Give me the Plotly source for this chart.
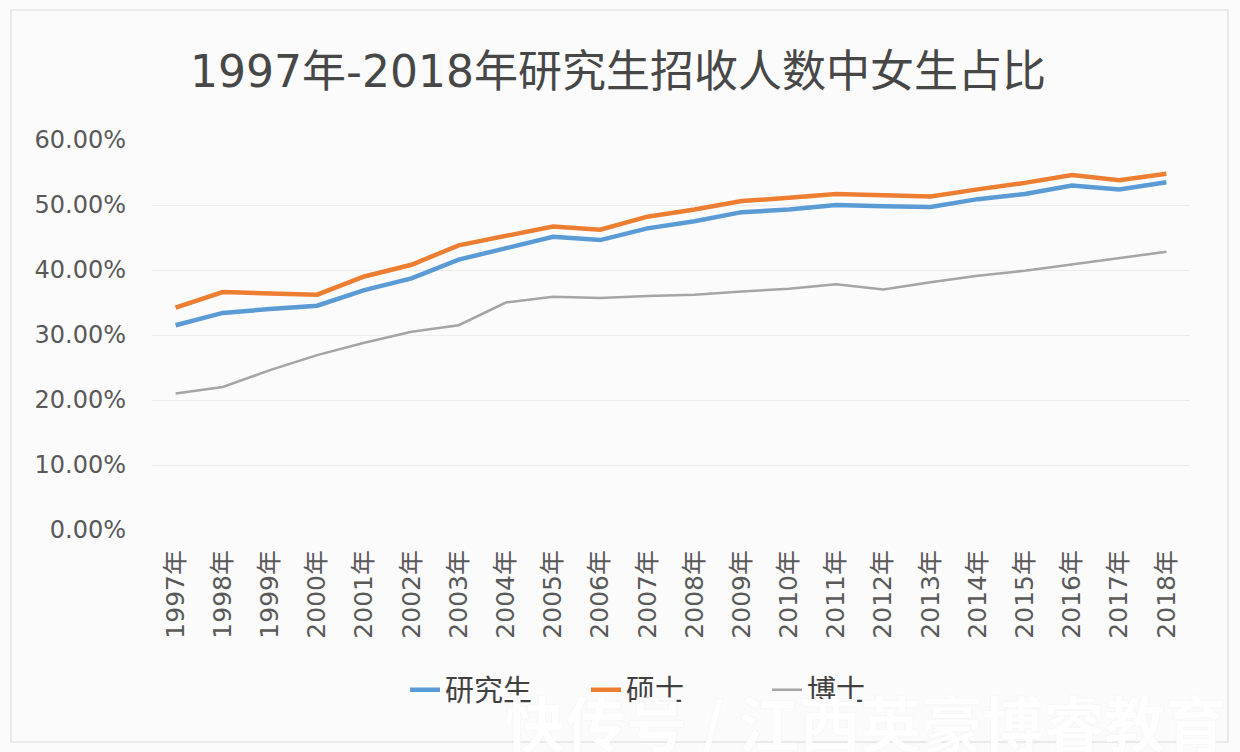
import plotly.graph_objects as go

years = [f"{y}年" for y in range(1997, 2019)]
grad = [31.5, 33.4, 34.0, 34.5, 36.9, 38.7, 41.6, 43.3, 45.1, 44.6, 46.4,
        47.5, 48.9, 49.3, 50.0, 49.8, 49.7, 50.9, 51.7, 53.0, 52.4, 53.5]
master = [34.2, 36.6, 36.4, 36.2, 39.0, 40.8, 43.8, 45.2, 46.7, 46.2, 48.2,
          49.3, 50.6, 51.1, 51.7, 51.5, 51.3, 52.4, 53.4, 54.6, 53.8, 54.8]
phd = [21.0, 22.0, 24.6, 26.9, 28.8, 30.5, 31.5, 35.0, 35.9, 35.7, 36.0,
       36.2, 36.7, 37.1, 37.8, 37.0, 38.1, 39.1, 39.9, 40.9, 41.9, 42.8]
names = ["研究生", "硕士", "博士"]
colors = ["#5B9BD5", "#ED7D31", "#A5A5A5"]
widths = [4.5, 4.5, 2.5]
ytick_vals = [0, 10, 20, 30, 40, 50, 60]
ytick_text = [f"{v:.2f}%" for v in ytick_vals]

font_family = "DejaVu Sans, Noto Sans CJK SC, sans-serif"
cjk_family = "Noto Sans CJK SC, sans-serif"

fig = go.Figure()
for name, vals, c, w in zip(names, [grad, master, phd], colors, widths):
    fig.add_trace(go.Scatter(x=years, y=vals, mode="lines", name=name,
                             line=dict(color=c, width=w)))

L, R, T, B = 152, 1240 - 1190, 140, 752 - 530
pw, ph = 1240 - L - R, 752 - T - B

def px(x):
    return (x - L) / pw

def py(y):
    return (752 - B - y) / ph

fig.update_layout(
    width=1240, height=752,
    margin=dict(l=L, r=R, t=T, b=B, autoexpand=False),
    paper_bgcolor="#fbfbfc", plot_bgcolor="#fbfbfc",
    font=dict(family=font_family, color="#595959"),
    title=dict(text="1997年-2018年研究生招收人数中女生占比",
               x=618 / 1240, xanchor="center", y=1 - 72 / 752, yanchor="middle",
               font=dict(size=44, color="#474747", family=font_family)),
    xaxis=dict(type="category", tickangle=-90, showgrid=False, showline=False,
               range=[-0.5, len(years) - 0.5],
               ticks="", tickfont=dict(size=25, color="#595959", family=font_family),
               ticklabelstandoff=14),
    yaxis=dict(range=[0, 60], tickvals=ytick_vals, ticktext=ytick_text,
               showgrid=True, gridcolor="#ececef", gridwidth=1, zeroline=False,
               showline=False, ticks="", tickfont=dict(size=24, color="#595959"),
               ticklabelstandoff=25),
    legend=dict(orientation="h", x=px(405), xanchor="left", y=py(690), yanchor="middle",
                font=dict(size=29, color="#404040", family=cjk_family),
                bgcolor="rgba(0,0,0,0)",
                entrywidth=136, entrywidthmode="pixels", traceorder="normal"),
    showlegend=True,
)

fig.add_shape(type="rect", xref="paper", yref="paper",
              x0=px(11), x1=px(1228), y0=py(742), y1=py(10),
              line=dict(color="#e4e4e6", width=1.5), fillcolor="rgba(0,0,0,0)", layer="below")

fig.add_annotation(text="快传号 / 江西英豪博睿教育", xref="paper", yref="paper",
                   x=px(1228), xanchor="right", y=py(721), yanchor="middle",
                   showarrow=False,
                   font=dict(size=61, color="rgba(255,255,255,0.95)", family=cjk_family,
                             weight="bold",
                             shadow="0px 0px 1px rgba(160,160,160,0.25)"))

fig.write_html("out.html", config={"displayModeBar": False},
               post_script="document.body.style.margin='0';")
